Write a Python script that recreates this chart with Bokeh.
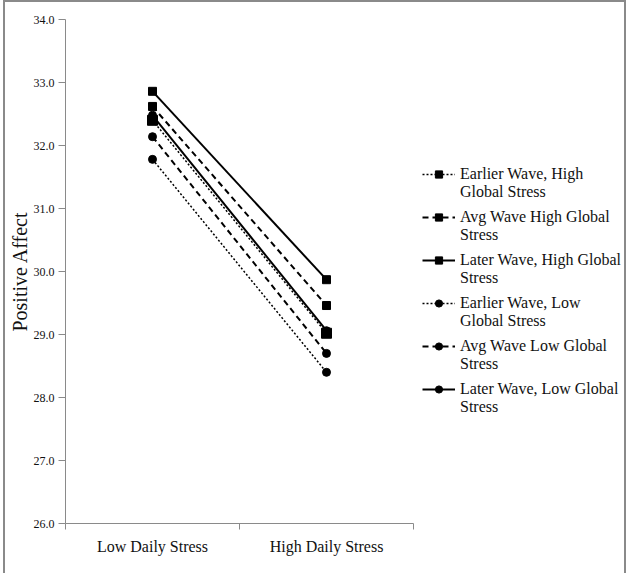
from bokeh.plotting import figure
from bokeh.layouts import column
from bokeh.models import (FixedTicker, Legend, LegendItem, Range1d, NumeralTickFormatter)
from bokeh.embed import file_html
from bokeh.resources import INLINE

categories = ["Low Daily Stress", "High Daily Stress"]

# legend labels: first and second text line of each entry
label_line1 = [
    "Earlier Wave, High",
    "Avg Wave High Global",
    "Later Wave, High Global",
    "Earlier Wave, Low",
    "Avg Wave Low Global",
    "Later Wave, Low Global",
]
label_line2 = [
    "Global Stress",
    "Stress",
    "Stress",
    "Global Stress",
    "Stress",
    "Stress",
]
earlier_high = [32.40, 29.02]
avg_high = [32.62, 29.46]
later_high = [32.86, 29.87]
earlier_low = [31.78, 28.40]
avg_low = [32.14, 28.70]
later_low = [32.48, 29.06]
y_ticks = [26, 27, 28, 29, 30, 31, 32, 33, 34]

series_values = [earlier_high, avg_high, later_high, earlier_low, avg_low, later_low]
dashes = ["2 2", "6 4", "solid", "2 2", "6 4", "solid"]
widths = [1.5, 2, 2, 1.5, 2, 2]
markers = ["square", "square", "square", "circle", "circle", "circle"]
msizes = [10, 8, 8, 8, 8, 8]

FONT = "Liberation Serif"
AXIS_COLOR = "#8a8a8a"
TEXT_COLOR = "#111111"

# plot area: categories occupy the left 353 px of a 567 px wide frame; the rest holds the legend
n_cat = len(categories)
x_end = n_cat * 567 / 353

p = figure(width=619, height=571, x_range=Range1d(0, x_end), y_range=Range1d(26, 34),
           output_backend="svg", toolbar_location=None,
           min_border_left=52, min_border_right=0, min_border_top=17, min_border_bottom=50)
p.grid.visible = False
p.outline_line_color = None

xs = [i + 0.5 for i in range(n_cat)]

items1 = []
for lab, vals, d, w, m, s in zip(label_line1, series_values, dashes, widths, markers, msizes):
    r1 = p.line(xs, vals, line_color="black", line_width=w, line_dash=d)
    r2 = p.scatter(xs, vals, marker=m, size=s, fill_color="black", line_color="black")
    items1.append(LegendItem(label=lab, renderers=[r1, r2]))

# invisible renderer carrying the second text line of each legend entry
dummy = p.line(x=[], y=[], line_alpha=0)
items2 = [LegendItem(label=lab, renderers=[dummy]) for lab in label_line2]

# axes
xa = p.xaxis[0]
xa.bounds = (0, n_cat)
xa.ticker = FixedTicker(ticks=xs, minor_ticks=list(range(n_cat + 1)))
xa.major_label_overrides = {x: c for x, c in zip(xs, categories)}
xa.major_tick_line_color = None
xa.minor_tick_out = 6
xa.minor_tick_in = 0
xa.minor_tick_line_color = AXIS_COLOR
xa.axis_line_color = AXIS_COLOR
xa.major_label_text_font = FONT
xa.major_label_text_font_size = "16px"
xa.major_label_text_color = TEXT_COLOR
xa.major_label_standoff = 8

ya = p.yaxis[0]
ya.ticker = FixedTicker(ticks=y_ticks)
ya.formatter = NumeralTickFormatter(format="0.0")
ya.major_tick_out = 7
ya.major_tick_in = 0
ya.minor_tick_line_color = None
ya.major_tick_line_color = AXIS_COLOR
ya.axis_line_color = AXIS_COLOR
ya.major_label_text_font = FONT
ya.major_label_text_font_size = "12px"
ya.major_label_text_color = TEXT_COLOR
ya.major_label_standoff = 4
ya.axis_label = "Positive Affect"
ya.axis_label_text_font = FONT
ya.axis_label_text_font_size = "20px"
ya.axis_label_text_font_style = "normal"
ya.axis_label_text_color = TEXT_COLOR
ya.axis_label_standoff = 0

common = dict(orientation="vertical", label_text_font=FONT, label_text_font_size="16px",
              label_text_color=TEXT_COLOR, label_text_line_height=1.0,
              label_height=18, glyph_height=18, glyph_width=33, label_standoff=5,
              spacing=25, padding=0, margin=0,
              border_line_color=None, background_fill_alpha=0)
legend1 = Legend(items=items1, location=(357, 125), **common)
legend2 = Legend(items=items2, location=(357, 107), **common)
p.add_layout(legend1, "center")
p.add_layout(legend2, "center")

layout = column(p, styles={"border-left": "2px solid #8a8a8a",
                           "border-top": "2px solid #8a8a8a",
                           "border-right": "2px solid #8a8a8a",
                           "margin-left": "3px"})

open("out.html", "w").write(file_html(layout, INLINE))
